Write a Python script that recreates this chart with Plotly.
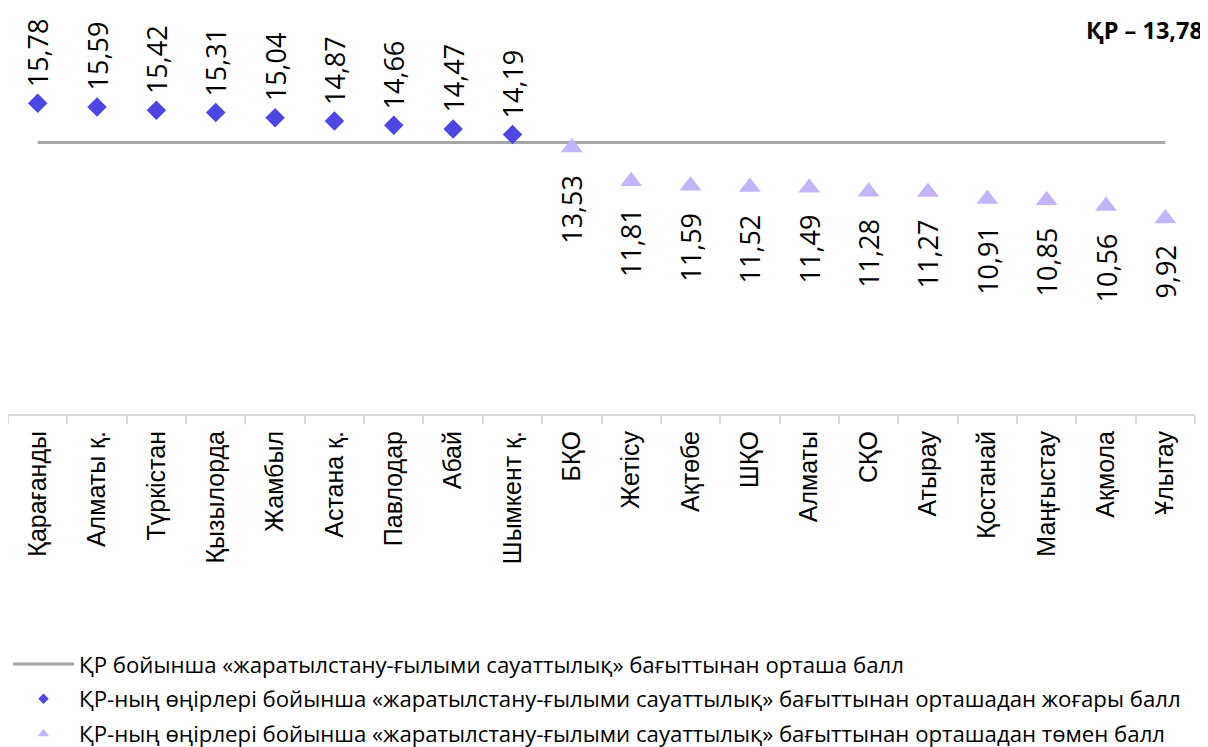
import plotly.graph_objects as go

regions = ["Қарағанды", "Алматы қ.", "Түркістан", "Қызылорда", "Жамбыл", "Астана қ.",
           "Павлодар", "Абай", "Шымкент қ.", "БҚО", "Жетісу", "Ақтөбе", "ШҚО", "Алматы",
           "СҚО", "Атырау", "Қостанай", "Маңғыстау", "Ақмола", "Ұлытау"]
scores = [15.78, 15.59, 15.42, 15.31, 15.04, 14.87, 14.66, 14.47, 14.19,
          13.53, 11.81, 11.59, 11.52, 11.49, 11.28, 11.27, 10.91, 10.85, 10.56, 9.92]
kz_mean = 13.78

legend_mean = "ҚР бойынша «жаратылстану-ғылыми сауаттылық» бағыттынан орташа балл"
legend_high = "ҚР-ның өңірлері бойынша «жаратылстану-ғылыми сауаттылық» бағыттынан орташадан жоғары балл"
legend_low = "ҚР-ның өңірлері бойынша «жаратылстану-ғылыми сауаттылық» бағыттынан орташадан төмен балл"

hi_x = [r for r, s in zip(regions, scores) if s >= kz_mean]
hi_y = [s for s in scores if s >= kz_mean]
lo_x = [r for r, s in zip(regions, scores) if s < kz_mean]
lo_y = [s for s in scores if s < kz_mean]

FONT = "Open Sans"
C_HI = "#4b47e0"
C_LO = "#c3b4fa"
C_LINE = "#a6a6a6"

fig = go.Figure()
fig.add_trace(go.Scatter(x=regions, y=[kz_mean] * len(regions), mode="lines",
                         line=dict(color=C_LINE, width=3), name=legend_mean,
                         legendgroup="mean"))
fig.add_trace(go.Scatter(x=hi_x, y=hi_y, mode="markers",
                         marker=dict(symbol="diamond", size=15, color=C_HI),
                         name=legend_high, showlegend=False, legendgroup="hi"))
fig.add_trace(go.Scatter(x=lo_x, y=lo_y, mode="markers",
                         marker=dict(symbol="triangle-up", size=19, color=C_LO),
                         name=legend_low, showlegend=False, legendgroup="lo"))
# legend-only entries with the small symbols used in the reference legend
fig.add_trace(go.Scatter(x=[None], y=[None], mode="markers",
                         marker=dict(symbol="diamond", size=8, color=C_HI),
                         name=legend_high, legendgroup="hi"))
fig.add_trace(go.Scatter(x=[None], y=[None], mode="markers",
                         marker=dict(symbol="triangle-up", size=10, color=C_LO),
                         name=legend_low, legendgroup="lo"))

def fmt(v):
    return f"{v:.2f}".replace(".", ",")

LBL = dict(family=FONT, size=27, color="#000000")
annotations = []
for x, y in zip(hi_x, hi_y):
    annotations.append(dict(x=x, y=y, text=fmt(y), showarrow=False, textangle=-90,
                            yanchor="bottom", xanchor="center", yshift=14, font=LBL))
for x, y in zip(lo_x, lo_y):
    annotations.append(dict(x=x, y=y, text=fmt(y), showarrow=False, textangle=-90,
                            yanchor="top", xanchor="center", yshift=-25, font=LBL))
annotations.append(dict(xref="paper", yref="paper", x=1, y=0.975, xshift=10,
                        xanchor="right", yanchor="middle", showarrow=False,
                        text="<b>ҚР – 13,78</b>",
                        font=dict(family=FONT, size=23.5, color="#000000")))

# the page shows the figure 8px to the right, so the figure is 8px narrower
fig.update_layout(
    width=1200, height=747,
    margin=dict(l=0, r=13, t=12, b=333),
    plot_bgcolor="white", paper_bgcolor="white",
    font=dict(family=FONT, size=20, color="#000000"),
    showlegend=True,
    legend=dict(orientation="v", x=0, xanchor="left", y=-0.582, yanchor="top",
                font=dict(family=FONT, size=22.2, color="#000000"),
                itemwidth=61, tracegroupgap=3, bgcolor="rgba(0,0,0,0)"),
    annotations=annotations,
)
fig.update_xaxes(type="category", range=[-0.5, len(regions) - 0.5], tickangle=-90,
                 showline=True, linecolor="#d9d9d9", linewidth=2, ticks="outside",
                 tickson="boundaries", ticklen=8, tickcolor="#d9d9d9", tickwidth=2,
                 showgrid=False, ticklabelstandoff=5,
                 tickfont=dict(family="Liberation Sans", size=25, color="#000000"))
fig.update_yaxes(range=[0, 20], visible=False, showgrid=False, zeroline=False)

fig.write_html("out.html")
